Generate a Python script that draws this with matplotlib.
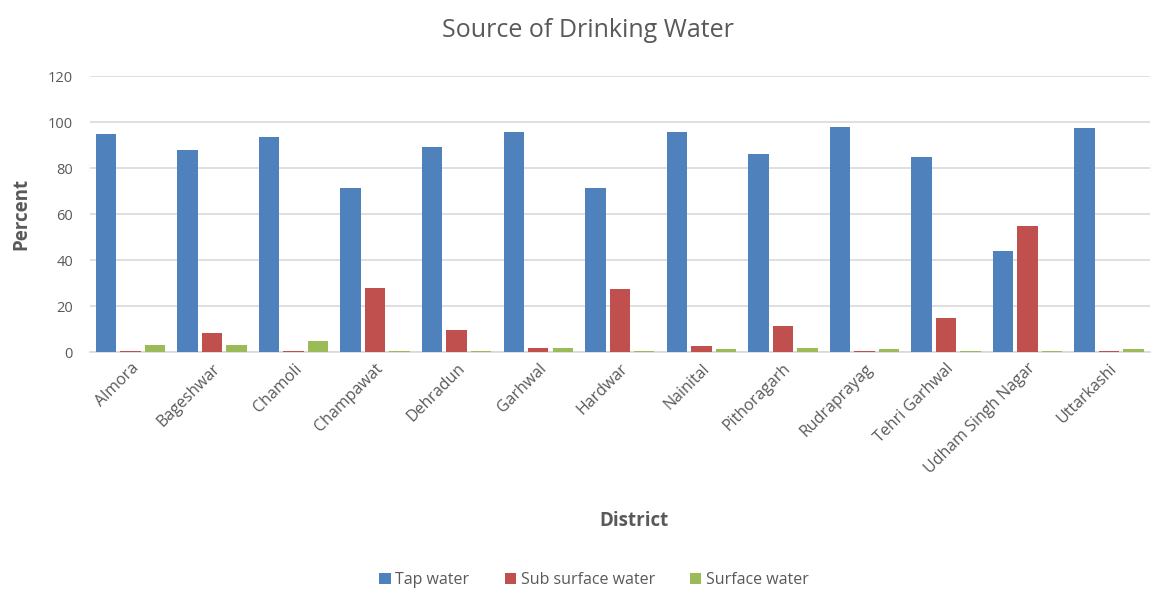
import matplotlib.pyplot as plt
import numpy as np

districts = ['Almora', 'Bageshwar', 'Chamoli', 'Champawat', 'Dehradun', 'Garhwal',
             'Hardwar', 'Nainital', 'Pithoragarh', 'Rudraprayag', 'Tehri Garhwal',
             'Udham Singh Nagar', 'Uttarkashi']
tap = [95.0, 88.0, 93.6, 71.4, 89.3, 95.8, 71.4, 95.8, 86.1, 98.1, 84.8, 44.1, 97.5]
sub_surface = [0.7, 8.4, 0.7, 28.1, 9.7, 2.0, 27.5, 2.8, 11.6, 0.7, 14.9, 54.9, 0.7]
surface = [3.2, 3.2, 5.1, 0.7, 0.7, 2.0, 0.7, 1.4, 2.0, 1.4, 0.7, 0.7, 1.4]

plt.rcParams['font.family'] = ['Open Sans', 'DejaVu Sans']
txt = '#595959'

fig = plt.figure(figsize=(11.65, 5.91), dpi=100)
ax = fig.add_axes([0.077, 0.404, 0.91, 0.467])

x = np.arange(len(districts))
step = 0.3
bw = 0.25
ax.bar(x - step, tap, bw, color='#4F81BD', label='Tap water', zorder=3)
ax.bar(x, sub_surface, bw, color='#C0504D', label='Sub surface water', zorder=3)
ax.bar(x + step, surface, bw, color='#9BBB59', label='Surface water', zorder=3)

ax.set_xlim(-0.5, len(districts) - 0.5)
ax.set_ylim(0, 120)
ax.set_yticks(range(0, 121, 20))
ax.grid(axis='y', color='#D9D9D9', linewidth=1.2, zorder=0)
ax.set_axisbelow(True)
for s in ['top', 'right', 'left']:
    ax.spines[s].set_visible(False)
ax.spines['bottom'].set_color('#D9D9D9')
ax.spines['bottom'].set_linewidth(1.2)
ax.spines['bottom'].set_zorder(1)
ax.tick_params(axis='both', length=0, colors=txt)
ax.tick_params(axis='y', pad=12, labelsize=10.5)
ax.tick_params(axis='x', pad=6, labelsize=11.5)

ax.set_xticks(x)
ax.set_xticklabels(districts, rotation=45, ha='right', rotation_mode='anchor')

fig.text(0.505, 0.948, 'Source of Drinking Water', fontsize=18, color=txt, ha='center', va='center')
ax.set_ylabel('Percent', fontsize=13.5, fontweight='bold', color=txt, labelpad=12)
fig.text(0.544, 0.118, 'District', fontsize=13.5, fontweight='bold', color=txt, ha='center', va='center')

fig.legend(loc='center', bbox_to_anchor=(0.51, 0.019), ncol=3, frameon=False,
           fontsize=11.5, labelcolor=txt, handlelength=0.7, handleheight=0.7,
           handletextpad=0.3, columnspacing=2.2)

fig.savefig('out.png', dpi=100)
